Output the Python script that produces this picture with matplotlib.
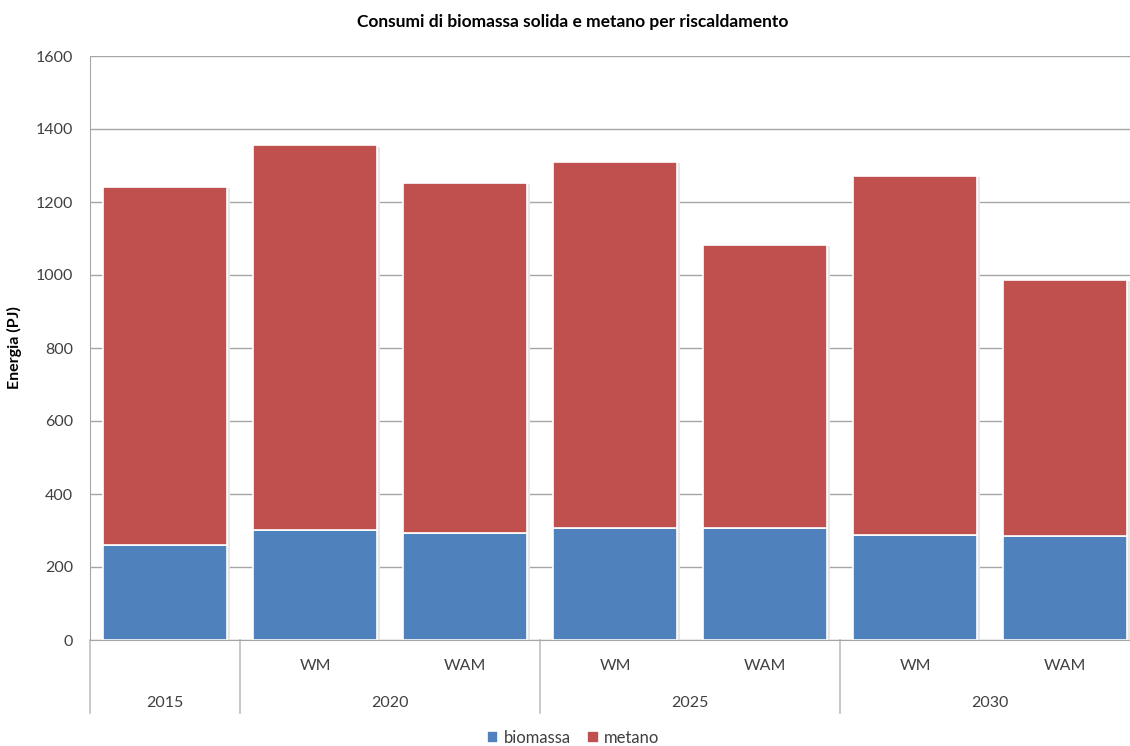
import numpy as np
import matplotlib.pyplot as plt

plt.rcParams['font.family'] = ['Lato', 'DejaVu Sans']

# Data (PJ)
scenari = ['', 'WM', 'WAM', 'WM', 'WAM', 'WM', 'WAM']
anni = ['2015', '2020', '2025', '2030']
anni_span = [1, 2, 2, 2]  # number of bars under each year
biomassa = [260, 301, 293, 307, 307, 288, 285]
totale = [1240, 1355, 1253, 1310, 1082, 1271, 986]
metano = [t - b for t, b in zip(totale, biomassa)]

blue = '#4F81BD'
red = '#C0504D'

fig = plt.figure(figsize=(11.3, 7.46), dpi=100)
W, H = 1130, 746
ax = fig.add_axes([90 / W, (H - 640) / H, 1050 / W, 584 / H])

x = np.arange(len(scenari))
w = 0.83

# faint shadow behind the bars
ax.bar(x + 0.015, totale, w, bottom=-3, color='#e6e6e6', zorder=1)
ax.bar(x, biomassa, w, color=blue, edgecolor='white', linewidth=1.2,
       label='biomassa', zorder=2)
ax.bar(x, metano, w, bottom=biomassa, color=red, edgecolor='white',
       linewidth=1.2, label='metano', zorder=2)

ax.set_xlim(-0.5, len(scenari) - 0.5)
ax.set_ylim(0, 1600)
ax.set_yticks(range(0, 1601, 200))
ax.yaxis.grid(True, color='#a6a6a6', linewidth=1)
ax.set_axisbelow(True)
ax.tick_params(axis='y', length=0, labelsize=11.5, colors='#404040', pad=12)
ax.set_xticks([])
for s in ['top', 'right']:
    ax.spines[s].set_visible(False)
ax.spines['left'].set_color('#a6a6a6')
ax.spines['bottom'].set_color('#a6a6a6')

ax.set_ylabel('Energia (PJ)', fontsize=11.5, fontweight='bold', labelpad=10)

# two-level category axis
for i, s in enumerate(scenari):
    ax.text(i, -70, s, ha='center', va='center', fontsize=11.5,
            color='#404040', clip_on=False)
pos = -0.5
for anno, n in zip(anni, anni_span):
    ax.plot([pos, pos], [0, -200], color='#bfbfbf', linewidth=1.2,
            clip_on=False)
    ax.text(pos + n / 2, -173, anno, ha='center', va='center', fontsize=11.5,
            color='#404040', clip_on=False)
    pos += n

fig.text(573 / W, 1 - 22 / H, 'Consumi di biomassa solida e metano per riscaldamento',
         ha='center', va='center', fontsize=12.5, fontweight='bold')

fig.legend(loc='center', bbox_to_anchor=(573 / W, 1 - 738 / H), ncol=2,
           frameon=False, fontsize=12, handlelength=0.7, handleheight=0.7,
           handletextpad=0.3, columnspacing=1.0, labelcolor='#404040')

fig.savefig('out.png', dpi=100)
